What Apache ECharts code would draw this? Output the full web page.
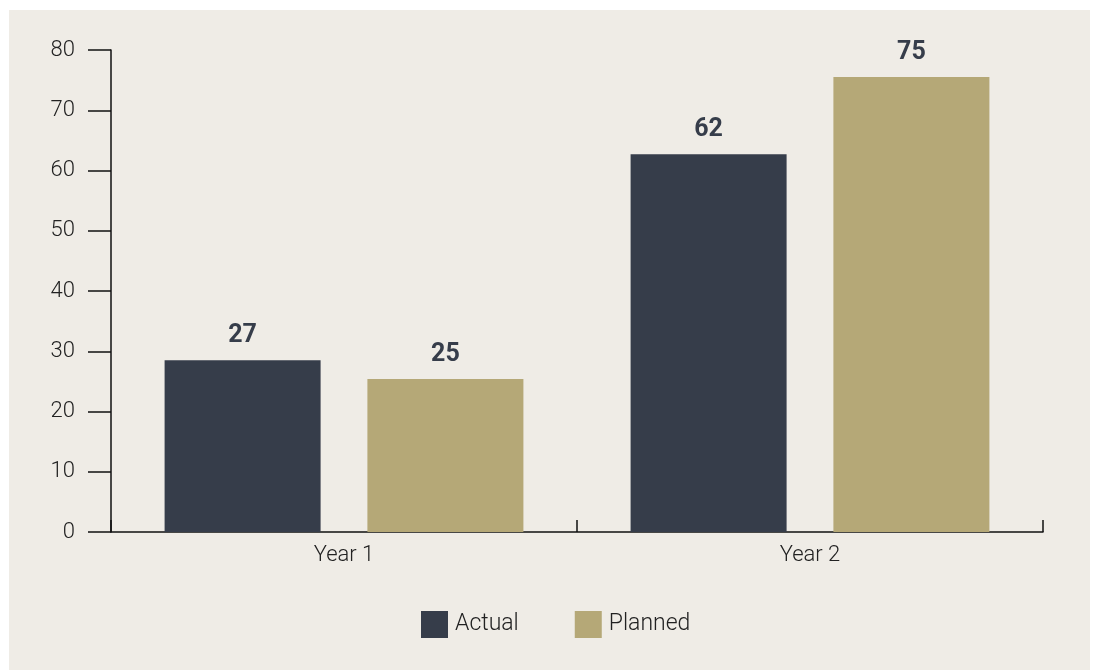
<!DOCTYPE html>
<html>
<head>
<meta charset="utf-8">
<script src="https://cdn.jsdelivr.net/npm/echarts@6/dist/echarts.min.js"></script>
<style>
  html, body { margin: 0; padding: 0; background: #ffffff; }
  #panel { position: absolute; left: 9px; top: 10px; width: 1081px; height: 660px; background: #efece6; }
  #chart { position: absolute; left: 0; top: 0; width: 1096px; height: 670px; }
</style>
</head>
<body>
<div id="panel"></div>
<div id="chart"></div>
<script>
// data
const categories = ['Year 1', 'Year 2'];
const seriesNames = ['Actual', 'Planned'];
const actualValues = [28.5, 62.7];   // bar heights
const plannedValues = [25.4, 75.5];
const actualLabels = ['27', '62'];   // printed value labels
const plannedLabels = ['25', '75'];
const yTicks = [0, 10, 20, 30, 40, 50, 60, 70, 80];

const colors = ['#363d4a', '#b5a877'];
const font = 'Roboto, "Noto Sans", sans-serif';

let chart = echarts.init(document.getElementById('chart'));

function barLabel(texts) {
    return {
        show: true,
        position: 'top',
        distance: 12,
        fontFamily: font,
        fontSize: 25,
        fontWeight: 'bold',
        color: '#363d4a',
        formatter: p => texts[p.dataIndex]
    };
}

chart.setOption({
    backgroundColor: 'transparent',
    color: colors,
    animation: false,
    grid: { left: 111, right: 53, top: 50, bottom: 138 },
    legend: {
        data: seriesNames,
        bottom: 27,
        left: 416,
        itemWidth: 27,
        itemHeight: 27,
        itemGap: 56,
        icon: 'rect',
        textStyle: { fontFamily: font, fontSize: 23, fontWeight: 300, color: '#222', padding: [0, 0, 0, 2] }
    },
    xAxis: {
        type: 'category',
        data: categories,
        axisLine: { lineStyle: { color: '#111', width: 1.5 } },
        axisTick: { show: true, inside: true, length: 12, lineStyle: { color: '#111', width: 1.5 } },
        axisLabel: { fontFamily: font, fontSize: 22, fontWeight: 300, color: '#222', margin: 12 }
    },
    yAxis: {
        type: 'value',
        min: yTicks[0],
        max: yTicks[yTicks.length - 1],
        interval: 10,
        splitLine: { show: false },
        axisLine: { show: true, lineStyle: { color: '#111', width: 1.5 } },
        axisTick: { show: true, length: 23, lineStyle: { color: '#111', width: 1.5 } },
        axisLabel: { fontFamily: font, fontSize: 22, fontWeight: 300, color: '#222', margin: 36 }
    },
    series: [
        {
            name: seriesNames[0],
            type: 'bar',
            data: actualValues,
            barWidth: 156,
            barGap: '30%',
            label: barLabel(actualLabels)
        },
        {
            name: seriesNames[1],
            type: 'bar',
            data: plannedValues,
            barWidth: 156,
            barGap: '30%',
            label: barLabel(plannedLabels)
        }
    ]
});
</script>
</body>
</html>
